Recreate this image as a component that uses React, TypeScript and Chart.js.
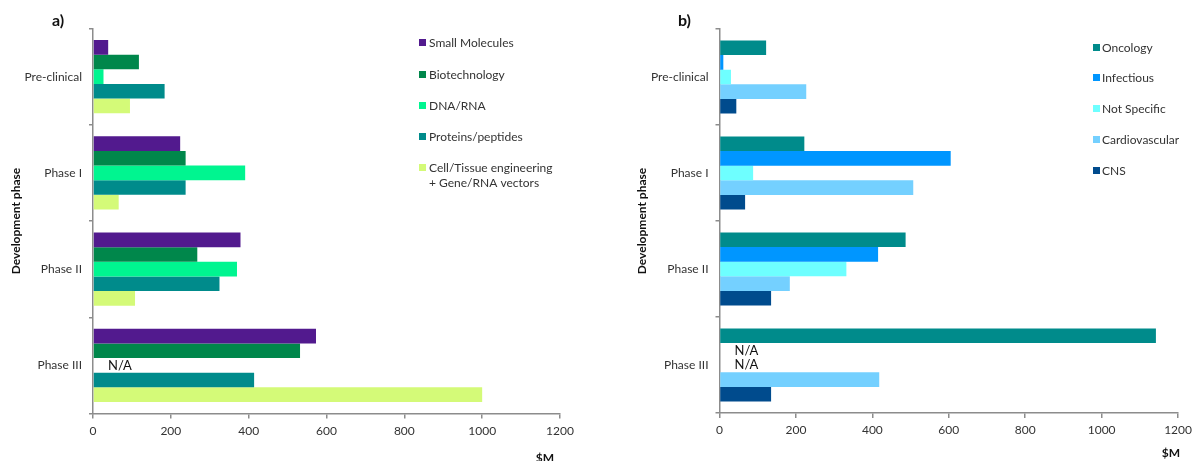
import React, { useEffect, useRef } from "react";
import { Chart, registerables } from "chart.js";

Chart.register(...registerables);

// ---------- data ----------
const phases = ["Pre-clinical", "Phase I", "Phase II", "Phase III"];
const xMin = 0;
const xMax = 1200;
const xStep = 200;

// panel a) – by technology ($M)
const seriesNamesA = [
  "Small Molecules",
  "Biotechnology",
  "DNA/RNA",
  "Proteins/peptides",
  "Cell/Tissue engineering\n+ Gene/RNA vectors",
];
const smallMolecules = [39, 224, 379, 573];
const biotechnology = [118, 238, 268, 532];
const dnaRna = [27, 391, 370, null];
const proteinsPeptides = [184, 238, 325, 414];
const cellTissueGene = [95, 66, 108, 1000];
const colorsA = ["#521a8e", "#00874b", "#00f590", "#008b8b", "#d4fa78"];

// panel b) – by therapeutic area ($M)
const seriesNamesB = ["Oncology", "Infectious", "Not Specific", "Cardiovascular", "CNS"];
const oncology = [122, 222, 487, 1142];
const infectious = [10, 605, 415, null];
const notSpecific = [30, 88, 332, null];
const cardiovascular = [227, 507, 184, 418];
const cns = [44, 67, 135, 135];
const colorsB = ["#008b8b", "#0096ff", "#6effff", "#74d0ff", "#004b8d"];

const naLabel = "N/A";
const axisTitle = "Development phase";
const unitLabel = "$M";

const FONT = "Lato, 'Open Sans', sans-serif";
const TEXT = "#333333";
const AXIS = "#8c8c8c";

type Layout = {
  width: number;
  panel: string;
  panelX: number;
  yTitleX: number;
  unitX: number;
  unitY: number;
  legendMarkerX: number;
  legendTextX: number;
  legendY: number[];
  yAxisWidth: number;
  padTop: number;
  padRight: number;
  xAxisHeight: number;
};

function overlayPlugin(L: Layout, names: string[], colors: string[]) {
  return {
    id: "overlay",
    afterDraw(chart: any) {
      const ctx = chart.ctx as CanvasRenderingContext2D;
      ctx.save();
      ctx.fillStyle = "#111";
      ctx.textBaseline = "middle";

      // panel label
      ctx.font = `bold 16px ${FONT}`;
      ctx.textAlign = "left";
      ctx.fillText(L.panel, L.panelX, 21);

      // y axis title
      ctx.save();
      ctx.translate(L.yTitleX, 221);
      ctx.rotate(-Math.PI / 2);
      ctx.font = `bold 12px ${FONT}`;
      ctx.textAlign = "center";
      ctx.fillText(axisTitle, 0, 0);
      ctx.restore();

      // unit label
      ctx.font = `bold 12px ${FONT}`;
      ctx.textAlign = "center";
      ctx.fillText(unitLabel, L.unitX, L.unitY);

      // legend
      ctx.font = `12px ${FONT}`;
      ctx.textAlign = "left";
      names.forEach((name, i) => {
        const y = L.legendY[i];
        ctx.fillStyle = colors[i];
        ctx.fillRect(L.legendMarkerX, y - 4, 7, 7);
        ctx.fillStyle = TEXT;
        name.split("\n").forEach((line, li) => {
          ctx.fillText(line, L.legendTextX, y + li * 15);
        });
      });

      // N/A labels
      const yScale = chart.scales.y;
      const xScale = chart.scales.x;
      const nSets = chart.data.datasets.length;
      ctx.font = `13px ${FONT}`;
      ctx.fillStyle = "#111";
      chart.data.datasets.forEach((ds: any, di: number) => {
        ds.data.forEach((v: any, i: number) => {
          if (v === null || v === undefined) {
            const meta = chart.getDatasetMeta(di);
            let y = meta.data[i] ? meta.data[i].y : NaN;
            if (!Number.isFinite(y)) {
              const cat = (yScale.bottom - yScale.top) / phases.length;
              const th = (cat * 0.76) / nSets;
              y = yScale.getPixelForValue(i) + (di - (nSets - 1) / 2) * th;
            }
            ctx.fillText(naLabel, xScale.left + 15, y);
          }
        });
      });
      ctx.restore();
    },
  };
}

function makeConfig(L: Layout, names: string[], colors: string[], values: (number | null)[][]) {
  return {
    type: "bar" as const,
    data: {
      labels: phases,
      datasets: values.map((vals, i) => ({
        label: names[i],
        data: vals,
        backgroundColor: colors[i],
        borderWidth: 0,
        categoryPercentage: 0.76,
        barPercentage: 1.0,
      })),
    },
    options: {
      indexAxis: "y" as const,
      responsive: false,
      animation: false as const,
      layout: { padding: { top: L.padTop, right: L.padRight, left: 0, bottom: 0 } },
      plugins: { legend: { display: false }, tooltip: { enabled: false }, title: { display: false } },
      scales: {
        x: {
          type: "linear" as const,
          min: xMin,
          max: xMax,
          afterFit: (s: any) => {
            s.height = L.xAxisHeight;
          },
          ticks: {
            stepSize: xStep,
            color: TEXT,
            padding: 5,
            font: { family: FONT, size: 12 },
            callback: (v: any) => String(v),
          },
          grid: { display: true, drawOnChartArea: false, drawTicks: true, tickLength: 5, color: AXIS, lineWidth: 1.5 },
          border: { display: true, color: AXIS, width: 1.5 },
        },
        y: {
          type: "category" as const,
          afterFit: (s: any) => {
            s.width = L.yAxisWidth;
          },
          ticks: { color: TEXT, padding: 7, font: { family: FONT, size: 12 } },
          grid: { display: true, offset: true, drawOnChartArea: false, drawTicks: true, tickLength: 4, color: AXIS, lineWidth: 1.5 },
          border: { display: true, color: AXIS, width: 1.5 },
        },
      },
    },
    plugins: [overlayPlugin(L, names, colors)],
  };
}

const layoutA: Layout = {
  width: 600,
  panel: "a)",
  panelX: 52,
  yTitleX: 16,
  unitX: 545,
  unitY: 458,
  legendMarkerX: 419,
  legendTextX: 429,
  legendY: [43, 75, 106, 137, 168],
  yAxisWidth: 93,
  padTop: 28.5,
  padRight: 40,
  xAxisHeight: 47.5,
};

const layoutB: Layout = {
  width: 597,
  panel: "b)",
  panelX: 78,
  yTitleX: 42,
  unitX: 571,
  unitY: 453,
  legendMarkerX: 493,
  legendTextX: 502,
  legendY: [48, 78, 109, 140, 171],
  yAxisWidth: 119.5,
  padTop: 29,
  padRight: 13.5,
  xAxisHeight: 48,
};

function Panel(props: { L: Layout; names: string[]; colors: string[]; values: (number | null)[][]; left: number }) {
  const ref = useRef<HTMLCanvasElement | null>(null);
  useEffect(() => {
    if (!ref.current) return;
    const chart = new Chart(ref.current, makeConfig(props.L, props.names, props.colors, props.values) as any);
    return () => chart.destroy();
  }, []);
  return (
    <canvas
      ref={ref}
      width={props.L.width}
      height={461}
      style={{ position: "absolute", left: props.left, top: 0, width: props.L.width, height: 461, display: "block" }}
    />
  );
}

export default function App() {
  return (
    <div style={{ position: "absolute", left: 0, top: 0, width: 1197, height: 461, background: "#fff", overflow: "hidden" }}>
      <Panel
        L={layoutA}
        names={seriesNamesA}
        colors={colorsA}
        values={[smallMolecules, biotechnology, dnaRna, proteinsPeptides, cellTissueGene]}
        left={0}
      />
      <Panel
        L={layoutB}
        names={seriesNamesB}
        colors={colorsB}
        values={[oncology, infectious, notSpecific, cardiovascular, cns]}
        left={600}
      />
    </div>
  );
}
